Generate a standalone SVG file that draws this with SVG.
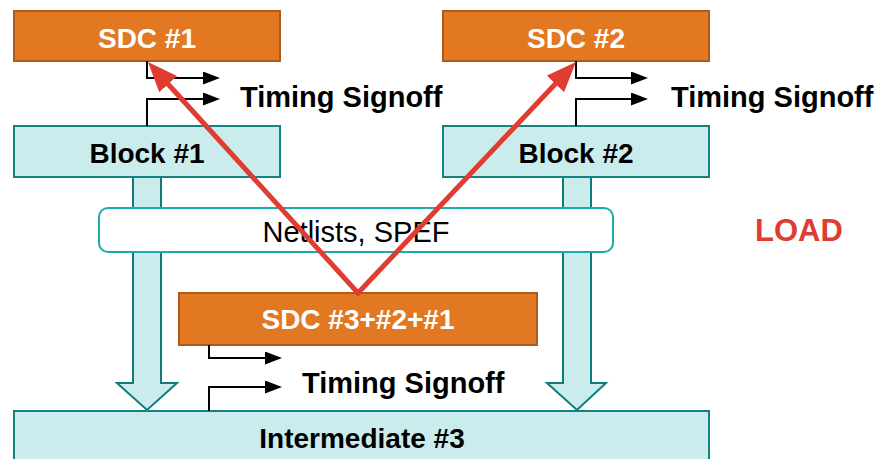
<svg xmlns="http://www.w3.org/2000/svg" width="878" height="459" viewBox="0 0 878 459">
<style>
.sdc{fill:#e27822;stroke:#b0591b;stroke-width:2}
.blk{fill:#cbeced;stroke:#138383;stroke-width:2}
.fat{fill:#cbeced;stroke:#0f7c7c;stroke-width:2}
.net{fill:#ffffff;stroke:#1aabab;stroke-width:2}
.wt{font-family:"Liberation Sans",Arial,sans-serif;font-weight:bold;font-size:28px;fill:#ffffff;text-anchor:middle}
.bt{font-family:"Liberation Sans",Arial,sans-serif;font-weight:bold;font-size:28px;fill:#000000;text-anchor:middle}
.ts{font-family:"Liberation Sans",Arial,sans-serif;font-weight:bold;font-size:29px;fill:#000000}
.nt{font-family:"Liberation Sans",Arial,sans-serif;font-size:29px;fill:#000000;text-anchor:middle}
.load{font-family:"Liberation Sans",Arial,sans-serif;font-weight:bold;font-size:31px;fill:#e03c31}
.ba{fill:none;stroke:#000000;stroke-width:2;marker-end:url(#bh)}
.red{fill:none;stroke:#e03c31;stroke-width:5;stroke-linejoin:miter;marker-start:url(#rh);marker-end:url(#rh)}
</style>
<defs>
<marker id="bh" markerUnits="userSpaceOnUse" markerWidth="17" markerHeight="13" refX="0" refY="6.5" orient="auto"><path d="M0,0 L17,6.5 L0,13 z" fill="#000000"/></marker>
<marker id="rh" markerUnits="strokeWidth" markerWidth="6" markerHeight="4.8" refX="1" refY="2.4" orient="auto-start-reverse"><path d="M0,0 L6,2.4 L0,4.8 z" fill="#e03c31"/></marker>
</defs>
<g id="fat-arrows">
<polygon id="fat-left" class="fat" points="133,177 161,177 161,383 177,383 147,410 117,383 133,383"/>
<polygon id="fat-right" class="fat" points="563,177 591,177 591,383 606,383 577,410 547,383 563,383"/>
</g>
<g id="netlists">
<rect class="net" x="99" y="208" width="514" height="44" rx="9"/>
<text class="nt" x="356" y="242">Netlists, SPEF</text>
</g>
<g id="sdc1">
<rect class="sdc" x="14" y="11" width="266" height="50"/>
<text class="wt" x="147" y="48">SDC #1</text>
</g>
<g id="sdc2">
<rect class="sdc" x="443" y="11" width="266" height="50"/>
<text class="wt" x="576" y="48">SDC #2</text>
</g>
<g id="block1">
<rect class="blk" x="14" y="126" width="266" height="51"/>
<text class="bt" x="147" y="163">Block #1</text>
</g>
<g id="block2">
<rect class="blk" x="443" y="126" width="266" height="51"/>
<text class="bt" x="576" y="163">Block #2</text>
</g>
<g id="sdc3">
<rect class="sdc" x="179" y="293" width="358" height="52"/>
<text class="wt" x="358" y="329">SDC #3+#2+#1</text>
</g>
<g id="intermediate3">
<rect class="blk" x="14" y="411" width="695" height="60"/>
<text class="bt" x="362" y="448">Intermediate #3</text>
</g>
<g id="labels">
<text class="ts" x="240" y="107">Timing Signoff</text>
<text class="ts" x="671" y="107">Timing Signoff</text>
<text class="ts" x="302" y="393">Timing Signoff</text>
<text class="load" x="755" y="241">LOAD</text>
</g>
<g id="connectors">
<path class="ba" d="M147,61 V78 H203"/>
<path class="ba" d="M147,126 V99 H203"/>
<path class="ba" d="M576,61 V78 H631"/>
<path class="ba" d="M576,126 V99 H631"/>
<path class="ba" d="M209,345 V358 H265"/>
<path class="ba" d="M209,411 V387 H265"/>
<polyline class="red" points="164.8,80.5 358,293 558.8,80.2"/>
</g>
</svg>
